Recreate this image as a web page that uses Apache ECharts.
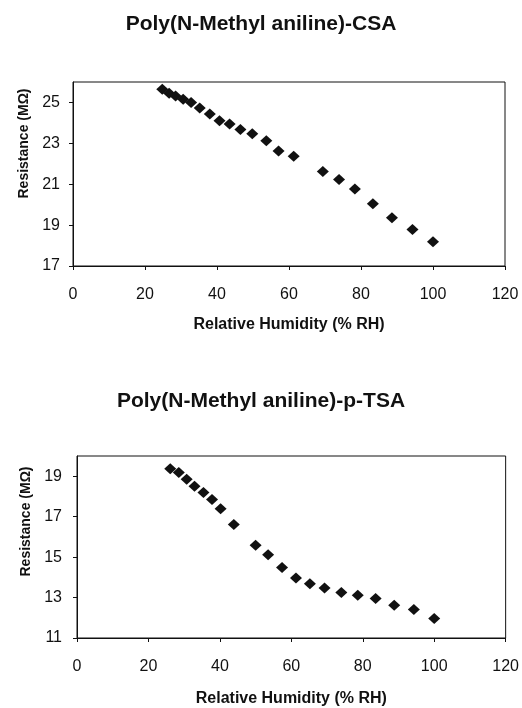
<!DOCTYPE html>
<html>
<head>
<meta charset="utf-8"/>
<script src="https://cdn.jsdelivr.net/npm/echarts@6.0.0/dist/echarts.min.js"></script>
<style>
html,body{margin:0;padding:0;background:#fff;}
#main{width:522px;height:708px;}
</style>
</head>
<body>
<div id="main"></div>
<script>
// top chart: CSA doped
var csaRH  = [24.8, 26.7, 28.5, 30.6, 32.8, 35.2, 38.0, 40.7, 43.5, 46.5, 49.8, 53.7, 57.1, 61.3, 69.4, 73.9, 78.3, 83.3, 88.6, 94.3, 100];
var csaRes = [25.65, 25.45, 25.32, 25.16, 25.0, 24.73, 24.44, 24.1, 23.94, 23.68, 23.47, 23.13, 22.63, 22.37, 21.62, 21.23, 20.77, 20.05, 19.36, 18.78, 18.19];

// bottom chart: p-TSA doped
var tsaRH  = [26.1, 28.5, 30.7, 32.9, 35.4, 37.8, 40.2, 43.9, 50.0, 53.5, 57.4, 61.3, 65.2, 69.3, 74.0, 78.6, 83.6, 88.8, 94.3, 100];
var tsaRes = [19.37, 19.18, 18.85, 18.5, 18.2, 17.85, 17.39, 16.61, 15.59, 15.12, 14.49, 13.97, 13.68, 13.47, 13.25, 13.11, 12.95, 12.62, 12.41, 11.97];

var titles = ['Poly(N-Methyl aniline)-CSA', 'Poly(N-Methyl aniline)-p-TSA'];
var xName = 'Relative Humidity (% RH)';
var yName = 'Resistance (MΩ)';

function pairs(xs, ys){
  var out = [];
  for(var i=0;i<xs.length;i++){ out.push([xs[i], ys[i]]); }
  return out;
}

var font = "'Liberation Sans', Arial, sans-serif";
var ink = '#111';

function xAxis(idx, gap){
  return {
    type:'value', gridIndex:idx, min:0, max:120, interval:20,
    name:xName, nameLocation:'middle', nameGap:gap,
    nameTextStyle:{fontFamily:font, fontWeight:'bold', fontSize:16, color:ink},
    axisLine:{lineStyle:{color:ink, width:1}},
    axisTick:{length:4, lineStyle:{color:ink}},
    axisLabel:{fontFamily:font, fontSize:16, color:ink, margin:21},
    splitLine:{show:false}
  };
}
function yAxis(idx, min, max, gap, shift, lm){
  return {
    type:'value', gridIndex:idx, min:min, max:max, interval:2,
    name:yName, nameLocation:'middle', nameGap:gap,
    nameTextStyle:{fontFamily:font, fontWeight:'bold', fontSize:14, color:ink, padding:[0,0,0,shift]},
    axisLine:{lineStyle:{color:ink, width:1}},
    axisTick:{length:4, lineStyle:{color:ink}},
    axisLabel:{fontFamily:font, fontSize:16, color:ink, margin:lm, showMaxLabel:false},
    splitLine:{show:false}
  };
}

var chart = echarts.init(document.getElementById('main'));
chart.setOption({
  animation:false,
  backgroundColor:'#fff',
  title:[
    {text:titles[0], left:'center', top:9, textStyle:{fontFamily:font, fontWeight:'bold', fontSize:21, color:ink}},
    {text:titles[1], left:'center', top:386, textStyle:{fontFamily:font, fontWeight:'bold', fontSize:21, color:ink}}
  ],
  grid:[
    {left:73, top:82, width:432, height:184, show:true, borderColor:ink, borderWidth:1},
    {left:77, top:456, width:432, height:186, show:true, borderColor:ink, borderWidth:1}
  ],
  xAxis:[xAxis(0, 51), xAxis(1, 53)],
  yAxis:[yAxis(0, 17, 26, 40, 61, 13), yAxis(1, 11, 20, 44, 51, 15)],
  series:[
    {type:'scatter', xAxisIndex:0, yAxisIndex:0, symbol:'diamond', symbolSize:[12,11],
     itemStyle:{color:ink, opacity:1}, data:pairs(csaRH, csaRes)},
    {type:'scatter', xAxisIndex:1, yAxisIndex:1, symbol:'diamond', symbolSize:[12,11],
     itemStyle:{color:ink, opacity:1}, data:pairs(tsaRH, tsaRes)}
  ]
});
</script>
</body>
</html>
